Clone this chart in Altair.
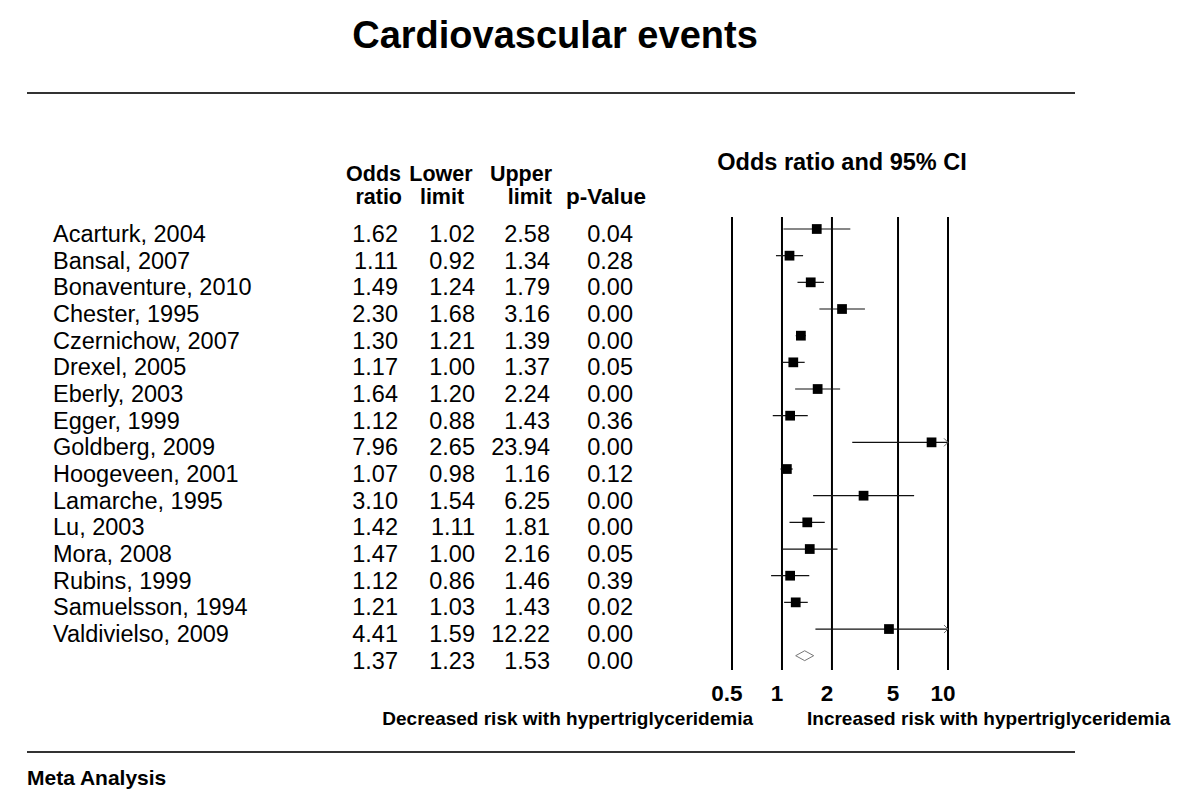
import altair as alt
import pandas as pd

# ---------------- data ----------------
studies = ["Acarturk, 2004", "Bansal, 2007", "Bonaventure, 2010", "Chester, 1995",
           "Czernichow, 2007", "Drexel, 2005", "Eberly, 2003", "Egger, 1999",
           "Goldberg, 2009", "Hoogeveen, 2001", "Lamarche, 1995", "Lu, 2003",
           "Mora, 2008", "Rubins, 1999", "Samuelsson, 1994", "Valdivielso, 2009"]
odds_ratio = [1.62, 1.11, 1.49, 2.30, 1.30, 1.17, 1.64, 1.12, 7.96, 1.07, 3.10, 1.42, 1.47, 1.12, 1.21, 4.41]
lower_limit = [1.02, 0.92, 1.24, 1.68, 1.21, 1.00, 1.20, 0.88, 2.65, 0.98, 1.54, 1.11, 1.00, 0.86, 1.03, 1.59]
upper_limit = [2.58, 1.34, 1.79, 3.16, 1.39, 1.37, 2.24, 1.43, 23.94, 1.16, 6.25, 1.81, 2.16, 1.46, 1.43, 12.22]
p_value = [0.04, 0.28, 0.00, 0.00, 0.00, 0.05, 0.00, 0.36, 0.00, 0.12, 0.00, 0.00, 0.05, 0.39, 0.02, 0.00]

summary_or = 1.37
summary_lower = 1.23
summary_upper = 1.53
summary_p = 0.00

ticks = [0.5, 1, 2, 5, 10]
tick_labels = ["0.5", "1", "2", "5", "10"]

# ---------------- tables ----------------
n = len(studies)
df = pd.DataFrame({
    "row": list(range(n)),
    "study": studies,
    "or": odds_ratio,
    "lower": lower_limit,
    "upper": upper_limit,
    "p": p_value,
})
df["upper_c"] = df["upper"].clip(upper=max(ticks))

table = pd.concat([df, pd.DataFrame({
    "row": [n], "study": [""], "or": [summary_or], "lower": [summary_lower],
    "upper": [summary_upper], "p": [summary_p]})], ignore_index=True)
summ = pd.DataFrame({"row": [n], "or": [summary_or]})
arrows = df[df["upper"] > max(ticks)]
tick_df = pd.DataFrame({"tick": ticks, "label": tick_labels})
one = pd.DataFrame({"a": [0]})

FONT = "Liberation Sans"
xs = alt.Scale(type="log", domain=[0.5, 10], range=[724, 940], nice=False)
ys = alt.Scale(domain=[0, n], range=[221, 647.7], nice=False, zero=False)


def X(field):
    return alt.X(field, scale=xs, axis=None)


def Y():
    return alt.Y("row:Q", scale=ys, axis=None)


def label(text, x, y, size, bold=False, align="left"):
    return alt.Chart(one).mark_text(
        font=FONT, fontSize=size, fontWeight="bold" if bold else "normal",
        align=align, baseline="alphabetic", color="black"
    ).encode(x=alt.value(x), y=alt.value(y), text=alt.value(text))


layers = []

# separator rules
for yy in (85, 744):
    layers.append(alt.Chart(one).mark_rule(color="#333333", strokeWidth=2).encode(
        x=alt.value(19), x2=alt.value(1067), y=alt.value(yy)))

# titles and headers
layers.append(label("Cardiovascular events", 547, 40, 38, bold=True, align="center"))
layers.append(label("Odds", 393, 173, 21.5, bold=True, align="right"))
layers.append(label("ratio", 394, 196, 21.5, bold=True, align="right"))
layers.append(label("Lower", 433, 173, 21.5, bold=True, align="center"))
layers.append(label("limit", 434, 196, 21.5, bold=True, align="center"))
layers.append(label("Upper", 544, 173, 21.5, bold=True, align="right"))
layers.append(label("limit", 544, 196, 21.5, bold=True, align="right"))
layers.append(label("p-Value", 638, 196, 22.5, bold=True, align="right"))
layers.append(label("Odds ratio and 95% CI", 834, 162, 23.5, bold=True, align="center"))

# table text
text_base = alt.Chart(table)
layers.append(text_base.mark_text(font=FONT, fontSize=23.5, align="left", baseline="alphabetic",
                                  dy=13, color="black").encode(
    x=alt.value(45), y=Y(), text="study:N"))
for field, xr in (("or", 390), ("lower", 467), ("upper", 542), ("p", 625)):
    layers.append(text_base.mark_text(font=FONT, fontSize=23.5, align="right", baseline="alphabetic",
                                      dy=13, color="black").encode(
        x=alt.value(xr), y=Y(), text=alt.Text(f"{field}:Q", format=".2f")))

# reference lines
layers.append(alt.Chart(tick_df).mark_rule(color="black", strokeWidth=2).encode(
    x=X("tick:Q"), y=alt.value(209), y2=alt.value(662)))

# CI lines
layers.append(alt.Chart(df).mark_rule(color="#111111", strokeWidth=1.2).encode(
    x=X("lower:Q"), x2="upper_c:Q", y=Y()))

# arrows for truncated CIs
layers.append(alt.Chart(arrows).mark_point(
    shape="M-1,-1L0,0L-1,1", size=64, filled=False, color="#666666", strokeWidth=1, opacity=1
).encode(x=X("upper_c:Q"), y=Y()))

# squares
layers.append(alt.Chart(df).mark_square(size=95, color="black", opacity=1).encode(
    x=X("or:Q"), y=Y()))

# summary diamond
layers.append(alt.Chart(summ).mark_point(
    shape="M-1,0L0,-0.55L1,0L0,0.55Z", size=324, filled=False, color="#777777",
    strokeWidth=1, opacity=1
).encode(x=X("or:Q"), y=Y()))

# tick labels
layers.append(alt.Chart(tick_df).mark_text(
    font=FONT, fontSize=22.5, fontWeight="bold", align="center", baseline="alphabetic",
    dx=-5, color="black").encode(x=X("tick:Q"), y=alt.value(693), text="label:N"))

# direction captions
layers.append(label("Decreased risk with hypertriglyceridemia", 745, 717, 19, bold=True, align="right"))
layers.append(label("Increased risk with hypertriglyceridemia", 799, 717, 19, bold=True, align="left"))

# footer
layers.append(label("Meta Analysis", 19, 777, 21, bold=True, align="left"))

chart = alt.layer(*layers).properties(
    width=1184, height=791, padding=0,
    autosize=alt.AutoSizeParams(type="fit", contains="padding"),
    background="white",
).configure_view(stroke=None)

chart.save("out.html", embed_options={"renderer": "svg", "actions": False})
